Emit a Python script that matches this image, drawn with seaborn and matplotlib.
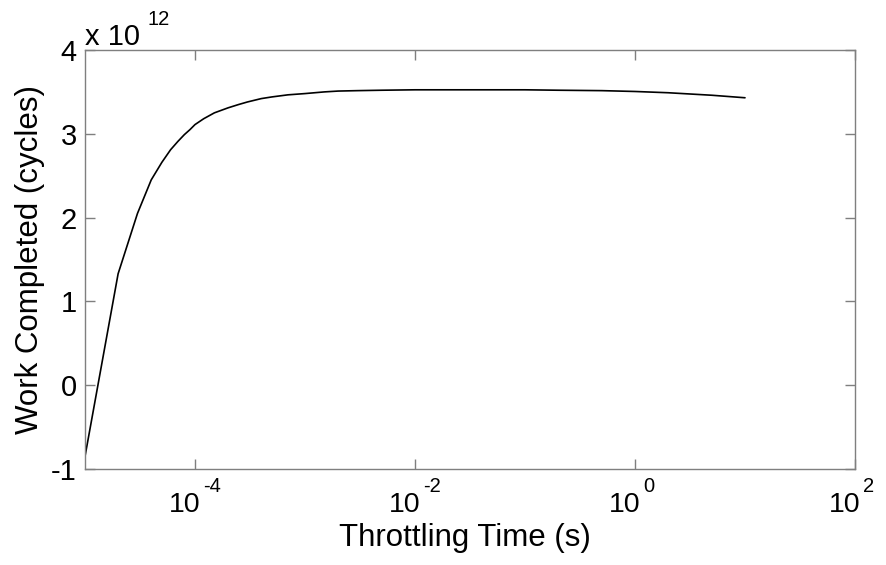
import matplotlib
matplotlib.use("Agg")
import matplotlib.pyplot as plt
import seaborn as sns
import pandas as pd
from matplotlib.ticker import FixedLocator, FuncFormatter, NullLocator, NullFormatter

# Data (work in units of 1e12 cycles)
throttle_time = [1e-5, 2e-5, 3e-5, 4e-5, 5e-5, 6e-5, 7e-5, 8e-5, 9e-5,
                 1e-4, 1.2e-4, 1.5e-4, 2e-4, 2.5e-4, 3e-4, 4e-4, 5e-4, 7e-4,
                 1e-3, 1.5e-3, 2e-3, 3e-3, 5e-3, 1e-2, 2e-2, 5e-2, 1e-1,
                 2e-1, 5e-1, 1.0, 2.0, 5.0, 10.0]
work_e12 = [-0.85, 1.33, 2.05, 2.45, 2.66, 2.81, 2.91, 2.99, 3.05,
            3.11, 3.18, 3.25, 3.31, 3.35, 3.38, 3.42, 3.44, 3.465,
            3.48, 3.50, 3.51, 3.515, 3.52, 3.525, 3.525, 3.525, 3.525,
            3.52, 3.515, 3.505, 3.49, 3.46, 3.43]
x_tick_exponents = [-4, -2, 0, 2]
y_ticks = [-1, 0, 1, 2, 3, 4]

df = pd.DataFrame({"t": throttle_time, "w": [v * 1e12 for v in work_e12]})

sns.set_theme(style="white")
plt.rcParams["font.family"] = ["Liberation Sans", "DejaVu Sans"]
plt.rcParams["axes.unicode_minus"] = False

fig = plt.figure(figsize=(8.86, 5.65), dpi=100)
ax = fig.add_axes([85 / 886, 1 - 469 / 565, (855 - 85) / 886, (469 - 50) / 565])

sns.lineplot(data=df, x="t", y="w", ax=ax, color="black", linewidth=1.2,
             estimator=None, sort=False)

ax.set_xscale("log")
ax.set_xlim(1e-5, 1e2)
ax.set_ylim(-1e12, 4e12)
ax.xaxis.set_major_locator(FixedLocator([10.0 ** e for e in x_tick_exponents]))
ax.xaxis.set_minor_locator(NullLocator())
ax.xaxis.set_major_formatter(NullFormatter())
ax.yaxis.set_major_locator(FixedLocator([v * 1e12 for v in y_ticks]))
ax.yaxis.set_major_formatter(FuncFormatter(lambda v, p: "%d" % round(v / 1e12)))

for s in ax.spines.values():
    s.set_visible(True)
    s.set_color("#7f7f7f")
    s.set_linewidth(1.0)
ax.tick_params(axis="both", which="major", direction="in", length=7, width=1,
               color="#7f7f7f", labelsize=21, labelcolor="black",
               top=True, right=True, bottom=True, left=True, pad=6)

# x tick labels drawn as base + raised exponent (MATLAB style)
for e in x_tick_exponents:
    ax.annotate("10", xy=(10.0 ** e, 0), xycoords=("data", "axes fraction"),
                xytext=(4, -31), textcoords="offset points",
                ha="right", va="baseline", fontsize=20.5, color="black",
                annotation_clip=False)
    ax.annotate("%d" % e, xy=(10.0 ** e, 0), xycoords=("data", "axes fraction"),
                xytext=(6, -16.5), textcoords="offset points",
                ha="left", va="baseline", fontsize=14.5, color="black",
                annotation_clip=False)

ax.set_xlabel("Throttling Time (s)", fontsize=22.5, color="black", labelpad=34)
ax.xaxis.set_label_coords(0.493, -0.13)
ax.xaxis.label.set_verticalalignment("top")
ax.set_ylabel("Work Completed (cycles)", fontsize=22.5, color="black", labelpad=4)

# multiplier text at top-left
ax.annotate("x 10", xy=(0, 1), xycoords="axes fraction", xytext=(0, 3.5),
            textcoords="offset points", ha="left", va="baseline",
            fontsize=21, color="black", annotation_clip=False)
ax.annotate("12", xy=(0, 1), xycoords="axes fraction", xytext=(45, 18),
            textcoords="offset points", ha="left", va="baseline",
            fontsize=14.5, color="black", annotation_clip=False)

fig.savefig("out.png", dpi=100, facecolor="white")
